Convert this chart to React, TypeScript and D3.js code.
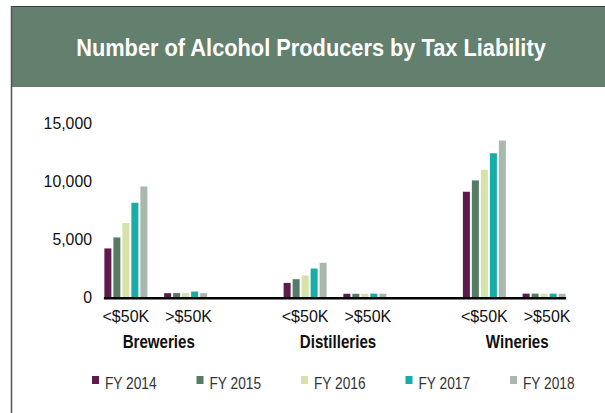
import React, { useRef, useEffect } from 'react';
import * as d3 from 'd3';

const industries = ['Breweries', 'Distilleries', 'Wineries'];
const liabilities = ['<$50K', '>$50K'];
const years = ['FY 2014', 'FY 2015', 'FY 2016', 'FY 2017', 'FY 2018'];
const colors = ['#5e1a4c', '#557a66', '#d5e3a8', '#18aca6', '#a9b8ac'];

// values per industry, per liability bucket, per year
const breweries = [
  [4200, 5150, 6400, 8150, 9550],
  [330, 340, 340, 470, 330],
];
const distilleries = [
  [1220, 1540, 1860, 2460, 2960],
  [280, 280, 280, 290, 280],
];
const wineries = [
  [9100, 10080, 11000, 12430, 13530],
  [290, 290, 280, 290, 280],
];
const yTicks = [0, 5000, 10000, 15000];

const W = 605;
const H = 413;
const font = "'Liberation Sans', Arial, sans-serif";

type Sel = d3.Selection<any, any, any, any>;

// condensed-looking text: regular sans squeezed horizontally
function label(g: Sel, x: number, y: number, txt: string, size: number, sx: number,
  anchor = 'middle', weight = 'normal', fill = '#111') {
  return g.append('text')
    .attr('transform', `translate(${x},${y}) scale(${sx},1)`)
    .attr('text-anchor', anchor)
    .attr('font-family', font)
    .attr('font-size', size)
    .attr('font-weight', weight)
    .attr('fill', fill)
    .text(txt);
}

const App: React.FC = () => {
  const svgRef = useRef<SVGSVGElement | null>(null);

  useEffect(() => {
    const svg = d3.select(svgRef.current);
    svg.selectAll('*').remove();

    // frame + header
    svg.append('rect').attr('x', 11).attr('y', 6).attr('width', W - 11).attr('height', 81).attr('fill', '#62806d');
    svg.append('line').attr('x1', 11).attr('x2', W).attr('y1', 6.5).attr('y2', 6.5).attr('stroke', '#3a3a3a').attr('stroke-width', 1);
    svg.append('line').attr('x1', 11.5).attr('x2', 11.5).attr('y1', 6).attr('y2', H).attr('stroke', '#555').attr('stroke-width', 1.5);
    const title = label(svg, 0, 0, 'Number of Alcohol Producers by Tax Liability', 24, 1, 'middle', 'bold', '#fff');
    const tw = (title.node() as SVGTextElement).getComputedTextLength();
    title.attr('transform', `translate(311,56) scale(${470 / tw},1)`);

    const all = [breweries, distilleries, wineries];
    // 8 slots: 2 per industry plus an empty slot between industries
    const slots = d3.range(8).map(String);
    const x = d3.scaleBand().domain(slots).range([96, 574]);
    const inner = d3.scaleBand().domain(years).range([0, 43]).paddingInner(2 / 9);
    const y = d3.scaleLinear().domain([0, 15000]).range([297, 123.5]);

    const center = (i: number, j: number) => x(String(i * 3 + j))! + x.bandwidth() / 2;

    // y labels
    yTicks.forEach(t => label(svg, 92, y(t) + 5.7, d3.format(',')(t), 16.5, 0.96, 'end'));

    all.forEach((ind, i) => {
      ind.forEach((vals, j) => {
        const cx = center(i, j);
        const x0 = cx - 21.5;
        svg.append('g').selectAll('rect').data(vals).enter().append('rect')
          .attr('x', (d, k) => x0 + inner(years[k])!)
          .attr('y', d => y(d))
          .attr('width', inner.bandwidth())
          .attr('height', d => y(0) - y(d))
          .attr('fill', (d, k) => colors[k]);
        label(svg, cx + (j === 0 ? 0 : 3), 322, liabilities[j], 16.5, 0.97);
      });
      label(svg, (center(i, 0) + center(i, 1)) / 2 + 3, 348, industries[i], 18, 0.84, 'middle', 'bold');
    });

    // axis line
    const ax0 = center(0, 0) - 22;
    const ax1 = center(2, 1) + 22;
    svg.append('line').attr('x1', ax0).attr('x2', ax1).attr('y1', y(0) + 1.2).attr('y2', y(0) + 1.2)
      .attr('stroke', '#000').attr('stroke-width', 2.5);

    // legend
    const lx = d3.scaleLinear().domain([0, 4]).range([92, 510]);
    years.forEach((yr, k) => {
      svg.append('rect').attr('x', lx(k)).attr('y', 376).attr('width', 7).attr('height', 8).attr('fill', colors[k]);
      label(svg, lx(k) + 13, 389, yr, 16.5, 0.83, 'start', 'normal', '#333');
    });
  }, []);

  return <svg ref={svgRef} width={W} height={H} style={{ position: 'absolute', left: 0, top: 0, background: '#fff' }}></svg>;
};

export default App;
